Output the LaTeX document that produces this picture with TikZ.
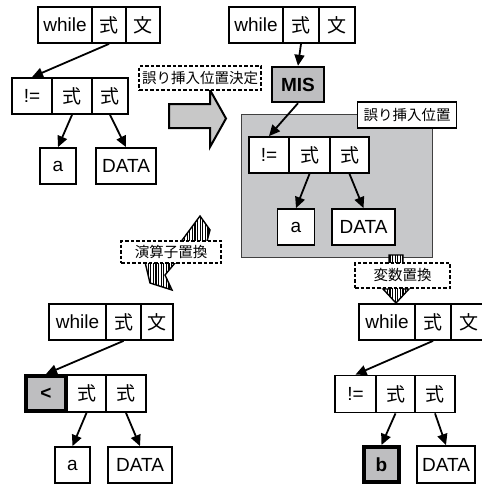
\documentclass[tikz,border=0pt]{standalone}
\usepackage{fontspec}
\setmainfont{Liberation Sans}
\newfontfamily\jp{Noto Sans CJK JP}
\usetikzlibrary{arrows.meta,patterns.meta}
\definecolor{areagray}{RGB}{199,200,202}
\definecolor{hotgray}{RGB}{190,190,192}
\definecolor{bigarrow}{RGB}{200,200,200}
\begin{document}
\begin{tikzpicture}[x=1pt,y=-1pt,
  cell/.style={draw,line width=1.8pt,fill=white,inner sep=0pt,minimum height=36pt,
    font=\fontsize{19}{19}\selectfont},
  jcell/.style={cell,font=\jp\fontsize{19}{19}\selectfont},
  hot/.style={cell,line width=4pt,fill=hotgray,font=\bfseries\fontsize{19}{19}\selectfont},
  arr/.style={line width=1.8pt,-{Triangle[length=11pt,width=10pt]}},
  tag/.style={draw,line width=2.6pt,dash pattern=on 3.5pt off 2pt,fill=white,inner sep=0pt,
    font=\jp\fontsize{14.5}{14.5}\selectfont},
  striped/.style={draw,line width=1.4pt,line join=miter,preaction={fill=white},
    pattern={Lines[angle=90,distance=2.6pt,line width=1.1pt]}}
]
\useasboundingbox (0,0) rectangle (482,485);

% ---------- top-left tree ----------
\node[cell,minimum width=54pt] (w1) at (65,25) {while};
\node[jcell,minimum width=34pt] (s1) at (109,25) {式};
\node[jcell,minimum width=34pt] (b1) at (143,25) {文};
\node[cell,minimum width=40pt] (ne1) at (32,96) {!=};
\node[jcell,minimum width=40pt] (e1a) at (72,96) {式};
\node[jcell,minimum width=36pt] (e1b) at (110,96) {式};
\node[cell,minimum width=36pt] (a1) at (58,166) {a};
\node[cell,minimum width=60pt] (d1) at (126,166) {DATA};
\draw[arr] (s1.south) -- (ne1.north);
\draw[arr] (e1a.south) -- (a1.north);
\draw[arr] (e1b.south) -- (d1.north);

% ---------- big gray arrow ----------
\draw[line width=2pt,line join=miter,fill=bigarrow]
  (169,104) -- (210,104) -- (210,90) -- (226,118.5) -- (210,147) -- (210,128) -- (169,128) -- cycle;
\node[tag,minimum width=122pt,minimum height=24pt] (L1) at (200,78) {誤り挿入位置決定};

% ---------- top-right tree ----------
\draw[line width=1pt,draw=black!75,fill=areagray] (241,114) rectangle (432,257);
\node[draw,line width=1.8pt,fill=white,inner sep=0pt,minimum width=99pt,minimum height=26pt,
  font=\jp\fontsize{14.5}{14.5}\selectfont] (L0) at (407,115) {誤り挿入位置};
\node[cell,minimum width=54pt] (w2) at (256,25) {while};
\node[jcell,minimum width=36pt] (s2) at (301,25) {式};
\node[jcell,minimum width=36pt] (b2) at (337,25) {文};
\node[cell,line width=2.4pt,fill=hotgray,minimum width=52pt,minimum height=35pt,
  font=\bfseries\fontsize{19}{19}\selectfont] (mis) at (298,84.5) {MIS};
\node[cell,minimum width=40pt] (ne2) at (269,155) {!=};
\node[jcell,minimum width=41pt] (e2a) at (309.5,155) {式};
\node[jcell,minimum width=39pt] (e2b) at (349.5,155) {式};
\node[cell,minimum width=37pt] (a2) at (296,227) {a};
\node[cell,minimum width=63pt] (d2) at (363.5,227) {DATA};
\draw[arr] (s2.south) -- (mis.north);
\draw[arr] (mis.south) -- (ne2.north);
\draw[arr] (e2a.south) -- (a2.north);
\draw[arr] (e2b.south) -- (d2.north);

% ---------- striped arrows ----------
\draw[striped] (200,216) -- (210,230) -- (206,245) -- (175,263) -- (165,275) -- (172,290)
  -- (150,283) -- (145,262) -- (180,243) -- cycle;
\node[tag,minimum width=100pt,minimum height=22pt] (L2) at (171,252) {演算子置換};
\draw[striped] (389,255) -- (403,255) -- (403,289) -- (409,289) -- (396,303) -- (383,289)
  -- (389,289) -- cycle;
\node[tag,minimum width=95pt,minimum height=25pt] (L3) at (402.5,275.5) {変数置換};

% ---------- bottom-left tree ----------
\node[cell,minimum width=57pt] (w3) at (77.5,322) {while};
\node[jcell,minimum width=35pt] (s3) at (123.5,322) {式};
\node[jcell,minimum width=32pt] (b3) at (157,322) {文};
\node[jcell,minimum width=39pt,minimum height=37pt] (e3a) at (86.5,393.5) {式};
\node[jcell,minimum width=40pt,minimum height=37pt] (e3b) at (126,393.5) {式};
\node[hot,minimum width=40pt,minimum height=35pt] (lt3) at (46,393.5) {<};
\node[cell,minimum width=35pt] (a3) at (72.5,465) {a};
\node[cell,minimum width=64pt] (d3) at (140,465) {DATA};
\draw[arr] (s3.south) -- (lt3.north);
\draw[arr] (e3a.south) -- (a3.north);
\draw[arr] (e3b.south) -- (d3.north);

% ---------- bottom-right tree ----------
\node[cell,minimum width=56pt] (w4) at (387,322) {while};
\node[jcell,minimum width=36pt] (s4) at (433,322) {式};
\node[jcell,minimum width=36pt] (b4) at (469,322) {文};
\node[cell,minimum width=41pt,minimum height=37pt] (ne4) at (355.5,394) {!=};
\node[jcell,minimum width=39pt,minimum height=37pt] (e4a) at (395.5,394) {式};
\node[jcell,minimum width=40pt,minimum height=37pt] (e4b) at (435,394) {式};
\node[hot,minimum width=35pt,minimum height=35pt] (bn) at (381.5,464.5) {b};
\node[cell,minimum width=58pt,minimum height=37pt] (d4) at (446,464.5) {DATA};
\draw[arr] (s4.south) -- (ne4.north);
\draw[arr] (e4a.south) -- (bn.north);
\draw[arr] (e4b.south) -- (d4.north);
\end{tikzpicture}
\end{document}
